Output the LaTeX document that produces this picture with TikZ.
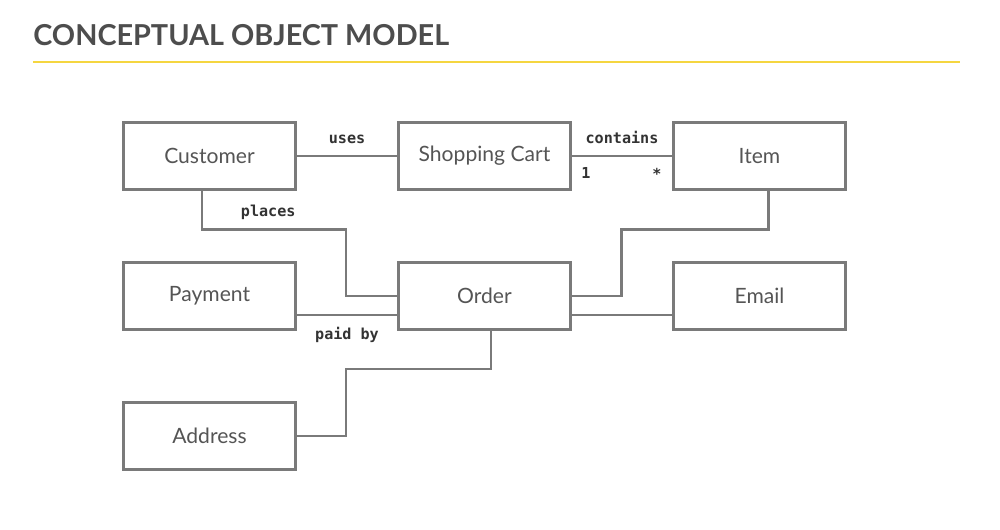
\documentclass[tikz,border=0pt]{standalone}
\usepackage{fontspec}
\setmainfont{Lato}
\setmonofont{DejaVu Sans Mono}
\usetikzlibrary{positioning}
\definecolor{boxgray}{HTML}{7A7A7A}
\definecolor{textgray}{HTML}{555555}
\definecolor{titlegray}{HTML}{4D4D4D}
\definecolor{rolegray}{HTML}{333333}
\definecolor{ruleyellow}{HTML}{F5D640}

\begin{document}
\begin{tikzpicture}[node distance=1.47cm and 2.06cm,
    entity/.style={rectangle, draw=boxgray, line width=1.6pt, outer sep=0pt, minimum width=3.44cm, minimum height=1.33cm, text=textgray, font=\fontsize{12}{14}\selectfont},
    link/.style={draw=boxgray, line width=1.6pt},
    role/.style={font=\ttfamily\bfseries\fontsize{8.6}{10}\selectfont, text=rolegray, inner sep=1pt}]
    \useasboundingbox[fill=white] (0,0) rectangle (20,-10.6);

    % heading
    \node[anchor=west, inner sep=0pt, text=titlegray, font=\bfseries\fontsize{16.4}{18}\selectfont] (title) at (0.66,-0.7) {CONCEPTUAL OBJECT MODEL};
    \coordinate (rulestart) at (0.66,-1.24);
    \coordinate (ruleend) at (19.2,-1.24);
    \draw[ruleyellow, line width=1.6pt] (rulestart) -- (ruleend);

    % classes
    \node[entity] (customer) at (4.19,-3.12) {Customer};
    \node[entity, right=of customer] (cart) {Shopping Cart};
    \node[entity, right=of cart] (item) {Item};
    \node[entity, below=of customer] (payment) {Payment};
    \node[entity, below=of cart] (order) {Order};
    \node[entity, below=of item] (email) {Email};
    \node[entity, below=of payment] (address) {Address};

    % bends
    \coordinate (placesbend) at (6.92,-4.59);
    \coordinate (itembend) at (12.43,-4.59);
    \coordinate (addressbend) at (6.92,-7.38);

    % associations
    \draw[link] (customer) -- node[role, above=5pt] {uses} (cart);
    \draw[link] (cart) -- node[role, above=5pt] {contains}
        node[role, pos=0.15, below=5pt] {1}
        node[role, pos=0.84, below=5pt] {*} (item);
    \draw[link] ([xshift=-0.15cm]customer.south) |- node[role, pos=0.73, above=4pt] {places} (placesbend) |- (order.west);
    \draw[link] ([yshift=-0.38cm]payment.east) -- node[role, below=5pt] {paid by} ([yshift=-0.38cm]order.west);
    \draw[link] ([xshift=0.18cm]item.south) |- (itembend) |- (order.east);
    \draw[link] ([yshift=-0.38cm]order.east) -- ([yshift=-0.38cm]email.west);
    \draw[link] ([xshift=0.13cm]order.south) |- (addressbend) |- (address.east);
\end{tikzpicture}
\end{document}
